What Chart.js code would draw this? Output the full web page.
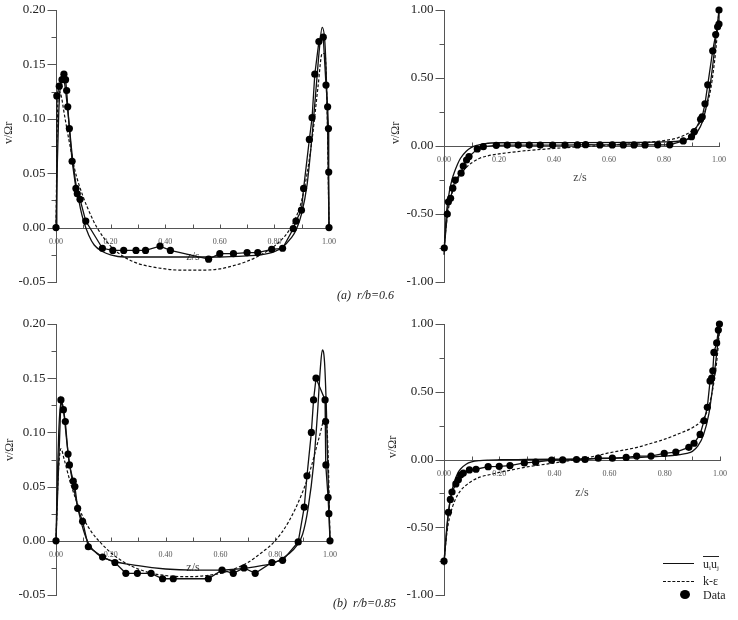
<!DOCTYPE html>
<html>
<head>
<meta charset="utf-8">
<script src="https://cdn.jsdelivr.net/npm/chart.js@4.4.1/dist/chart.umd.min.js"></script>
<style>
  html, body { margin: 0; padding: 0; background: #fff; }
  #wrap { position: relative; width: 738px; height: 620px; overflow: hidden; font-family: "Liberation Serif", "DejaVu Serif", serif; }
  canvas { position: absolute; }
  .cap { position: absolute; font-style: italic; font-size: 12px; color: #222; white-space: pre; }
  .lg { position: absolute; font-size: 12px; color: #222; line-height: 14px; }
</style>
</head>
<body>
<div id="wrap">
  <canvas id="cTL" width="369" height="300" style="left:0;top:0"></canvas>
  <canvas id="cTR" width="369" height="300" style="left:369px;top:0"></canvas>
  <canvas id="cBL" width="369" height="320" style="left:0;top:300px"></canvas>
  <canvas id="cBR" width="369" height="320" style="left:369px;top:300px"></canvas>
  <div class="cap" style="left:337px;top:288px">(a)  r/b=0.6</div>
  <div class="cap" style="left:333px;top:596px">(b)  r/b=0.85</div>
  <div style="position:absolute;left:663px;top:563px;width:31px;border-top:1.3px solid #111"></div>
  <div class="lg" style="left:703px;top:556px"><span style="display:inline-block;border-top:1px solid #222;line-height:12px;padding-top:1px">u<sub style="font-size:7px;vertical-align:-2px">i</sub>u<sub style="font-size:7px;vertical-align:-2px">j</sub></span></div>
  <div style="position:absolute;left:663px;top:581px;width:31px;border-top:1.2px dashed #111"></div>
  <div class="lg" style="left:703px;top:574px">k-ε</div>
  <div style="position:absolute;left:680px;top:590px;width:10px;height:9px;border-radius:50%;background:#000"></div>
  <div class="lg" style="left:703px;top:588px">Data</div>
</div>
<script>
// ---------- tick labels ----------
const xTickValues = [0, 0.2, 0.4, 0.6, 0.8, 1.0];
const xTickLabels = ["0.00", "0.20", "0.40", "0.60", "0.80", "1.00"];
const yTicksLeft = [-0.05, 0, 0.05, 0.10, 0.15, 0.20];
const yLabelsLeft = ["-0.05", "0.00", "0.05", "0.10", "0.15", "0.20"];
const yTicksRight = [-1.0, -0.5, 0, 0.5, 1.0];
const yLabelsRight = ["-1.00", "-0.50", "0.00", "0.50", "1.00"];
const seriesNames = ["uiuj", "k-\u03b5", "Data"];

// ---------- (a) r/b=0.6, left panel ----------
const aL_dataZ = [0, 0.003, 0.012, 0.022, 0.029, 0.035, 0.039, 0.043, 0.049, 0.059, 0.073, 0.078, 0.088, 0.109, 0.170, 0.208, 0.248, 0.293, 0.328, 0.381, 0.419, 0.559, 0.600, 0.650, 0.700, 0.739, 0.790, 0.830, 0.869, 0.879, 0.899, 0.907, 0.928, 0.938, 0.948, 0.963, 0.979, 0.989, 0.995, 0.998, 0.999, 1.0];
const aL_dataV = [0, 0.121, 0.130, 0.136, 0.141, 0.136, 0.126, 0.111, 0.091, 0.061, 0.036, 0.031, 0.026, 0.006, -0.019, -0.021, -0.021, -0.021, -0.021, -0.017, -0.021, -0.029, -0.024, -0.024, -0.023, -0.023, -0.020, -0.019, -0.001, 0.006, 0.016, 0.036, 0.081, 0.101, 0.141, 0.171, 0.175, 0.131, 0.111, 0.091, 0.051, 0];
const aL_rsmZ = [0, 0.005, 0.01, 0.015, 0.02, 0.025, 0.03, 0.04, 0.05, 0.06, 0.07, 0.08, 0.09, 0.1, 0.12, 0.14, 0.17, 0.2, 0.25, 0.3, 0.4, 0.5, 0.6, 0.7, 0.75, 0.8, 0.83, 0.86, 0.88, 0.9, 0.92, 0.94, 0.955, 0.965, 0.975, 0.985, 0.99, 0.995, 1.0];
const aL_rsmV = [0, 0.06, 0.105, 0.128, 0.136, 0.138, 0.135, 0.115, 0.09, 0.065, 0.045, 0.03, 0.017, 0.007, -0.007, -0.016, -0.022, -0.025, -0.027, -0.027, -0.027, -0.027, -0.027, -0.026, -0.025, -0.022, -0.018, -0.01, -0.002, 0.013, 0.04, 0.09, 0.135, 0.165, 0.184, 0.17, 0.14, 0.09, 0];
const aL_keZ = [0, 0.005, 0.012, 0.02, 0.03, 0.05, 0.07, 0.1, 0.13, 0.15, 0.2, 0.25, 0.3, 0.35, 0.4, 0.45, 0.5, 0.55, 0.6, 0.65, 0.7, 0.75, 0.8, 0.85, 0.88, 0.9, 0.92, 0.94, 0.96, 0.975, 0.985, 0.993, 1.0];
const aL_keV = [0, 0.1, 0.125, 0.12, 0.105, 0.077, 0.052, 0.028, 0.01, 0, -0.017, -0.027, -0.033, -0.036, -0.038, -0.039, -0.039, -0.039, -0.038, -0.035, -0.031, -0.025, -0.017, -0.004, 0.01, 0.025, 0.05, 0.085, 0.13, 0.16, 0.16, 0.11, 0];

// ---------- (a) r/b=0.6, right panel ----------
const aR_dataZ = [0.001, 0.012, 0.016, 0.024, 0.032, 0.041, 0.062, 0.070, 0.082, 0.091, 0.121, 0.143, 0.19, 0.23, 0.27, 0.31, 0.35, 0.395, 0.44, 0.485, 0.515, 0.567, 0.612, 0.652, 0.691, 0.731, 0.777, 0.821, 0.870, 0.90, 0.91, 0.933, 0.939, 0.949, 0.959, 0.977, 0.988, 0.995, 1.0, 1.0];
const aR_dataV = [-0.75, -0.50, -0.41, -0.385, -0.31, -0.25, -0.20, -0.147, -0.103, -0.078, -0.022, -0.005, 0.005, 0.007, 0.007, 0.007, 0.007, 0.007, 0.007, 0.008, 0.01, 0.008, 0.008, 0.008, 0.008, 0.008, 0.009, 0.009, 0.037, 0.068, 0.105, 0.196, 0.215, 0.31, 0.45, 0.70, 0.82, 0.877, 0.897, 1.0];
const aR_rsmZ = [0, 0.005, 0.01, 0.02, 0.03, 0.04, 0.05, 0.06, 0.08, 0.1, 0.12, 0.15, 0.2, 0.3, 0.5, 0.7, 0.8, 0.85, 0.88, 0.9, 0.92, 0.94, 0.96, 0.97, 0.98, 0.99, 1.0];
const aR_rsmV = [-0.8, -0.6, -0.47, -0.33, -0.24, -0.18, -0.13, -0.09, -0.04, -0.01, 0.005, 0.018, 0.024, 0.025, 0.025, 0.027, 0.03, 0.035, 0.045, 0.06, 0.1, 0.18, 0.35, 0.48, 0.64, 0.82, 1.0];
const aR_keZ = [0, 0.01, 0.02, 0.04, 0.06, 0.08, 0.1, 0.13, 0.16, 0.2, 0.25, 0.3, 0.4, 0.5, 0.6, 0.7, 0.8, 0.85, 0.9, 0.93, 0.95, 0.97, 0.98, 0.99, 1.0];
const aR_keV = [-0.75, -0.55, -0.42, -0.29, -0.21, -0.16, -0.125, -0.09, -0.072, -0.058, -0.045, -0.034, -0.018, -0.005, 0.007, 0.02, 0.04, 0.06, 0.11, 0.17, 0.26, 0.42, 0.56, 0.74, 1.0];

// ---------- (b) r/b=0.85, left panel ----------
const bL_dataZ = [0, 0.018, 0.027, 0.034, 0.044, 0.049, 0.063, 0.069, 0.079, 0.097, 0.118, 0.170, 0.215, 0.255, 0.297, 0.347, 0.389, 0.428, 0.556, 0.606, 0.647, 0.686, 0.727, 0.788, 0.827, 0.884, 0.906, 0.916, 0.932, 0.940, 0.949, 0.982, 0.984, 0.985, 0.993, 0.996, 1.0];
const bL_dataV = [0, 0.130, 0.121, 0.110, 0.080, 0.070, 0.055, 0.050, 0.030, 0.018, -0.0055, -0.015, -0.020, -0.030, -0.030, -0.030, -0.035, -0.035, -0.035, -0.027, -0.030, -0.025, -0.030, -0.020, -0.018, -0.001, 0.031, 0.060, 0.100, 0.130, 0.150, 0.130, 0.110, 0.070, 0.040, 0.025, 0];
const bL_rsmZ = [0, 0.005, 0.01, 0.015, 0.02, 0.025, 0.03, 0.04, 0.05, 0.06, 0.08, 0.1, 0.12, 0.15, 0.2, 0.3, 0.4, 0.5, 0.6, 0.7, 0.75, 0.8, 0.85, 0.88, 0.9, 0.92, 0.94, 0.955, 0.965, 0.972, 0.98, 0.987, 0.993, 1.0];
const bL_rsmV = [0, 0.06, 0.1, 0.122, 0.128, 0.125, 0.115, 0.09, 0.07, 0.055, 0.03, 0.01, -0.003, -0.012, -0.018, -0.023, -0.026, -0.027, -0.027, -0.025, -0.023, -0.02, -0.012, -0.004, 0.006, 0.03, 0.07, 0.12, 0.16, 0.176, 0.165, 0.12, 0.06, 0];
const bL_keZ = [0, 0.008, 0.018, 0.03, 0.05, 0.07, 0.1, 0.13, 0.16, 0.2, 0.25, 0.3, 0.35, 0.4, 0.45, 0.5, 0.55, 0.6, 0.65, 0.7, 0.75, 0.8, 0.85, 0.9, 0.93, 0.96, 0.985, 0.993, 1.0];
const bL_keV = [0, 0.06, 0.085, 0.075, 0.056, 0.04, 0.021, 0.008, -0.001, -0.011, -0.02, -0.026, -0.03, -0.032, -0.033, -0.033, -0.032, -0.03, -0.026, -0.02, -0.011, 0.0, 0.018, 0.045, 0.067, 0.095, 0.115, 0.08, 0];

// ---------- (b) r/b=0.85, right panel ----------
const bR_dataZ = [0, 0.016, 0.023, 0.029, 0.043, 0.052, 0.060, 0.070, 0.092, 0.116, 0.16, 0.20, 0.239, 0.291, 0.332, 0.39, 0.43, 0.48, 0.511, 0.559, 0.61, 0.66, 0.698, 0.75, 0.798, 0.84, 0.887, 0.906, 0.928, 0.942, 0.954, 0.964, 0.970, 0.974, 0.978, 0.988, 0.994, 0.998];
const bR_dataV = [-0.75, -0.39, -0.295, -0.24, -0.18, -0.15, -0.115, -0.10, -0.077, -0.072, -0.053, -0.05, -0.045, -0.025, -0.02, -0.005, -0.003, 0.0, 0.0, 0.01, 0.01, 0.015, 0.025, 0.025, 0.045, 0.055, 0.09, 0.12, 0.185, 0.286, 0.385, 0.58, 0.60, 0.655, 0.79, 0.86, 0.955, 1.0];
const bR_rsmZ = [0, 0.01, 0.02, 0.03, 0.04, 0.05, 0.06, 0.08, 0.1, 0.13, 0.16, 0.2, 0.3, 0.4, 0.5, 0.6, 0.7, 0.8, 0.85, 0.88, 0.9, 0.92, 0.94, 0.96, 0.97, 0.98, 0.99, 1.0];
const bR_rsmV = [-0.78, -0.5, -0.33, -0.22, -0.15, -0.1, -0.07, -0.035, -0.018, -0.008, -0.004, -0.002, 0.0, 0.002, 0.004, 0.008, 0.014, 0.025, 0.035, 0.045, 0.06, 0.1, 0.18, 0.34, 0.48, 0.64, 0.82, 1.0];
const bR_keZ = [0, 0.01, 0.02, 0.04, 0.06, 0.08, 0.1, 0.13, 0.17, 0.2, 0.25, 0.3, 0.35, 0.4, 0.45, 0.5, 0.6, 0.7, 0.76, 0.8, 0.85, 0.9, 0.93, 0.95, 0.97, 0.98, 0.99, 1.0];
const bR_keV = [-0.75, -0.55, -0.43, -0.3, -0.23, -0.19, -0.16, -0.13, -0.11, -0.095, -0.075, -0.055, -0.04, -0.025, -0.01, 0.005, 0.05, 0.09, 0.125, 0.15, 0.19, 0.235, 0.28, 0.34, 0.48, 0.6, 0.76, 1.0];

// ---------- helpers ----------
function pts(zs, vs) { return zs.map((z, i) => ({ x: z, y: vs[i] })); }

const axesPlugin = {
  id: 'panelAxes',
  beforeDatasetsDraw(chart, args, o) {
    const ctx = chart.ctx, xs = chart.scales.x, ys = chart.scales.y;
    const ax = Math.round(xs.getPixelForValue(0)) + 0.5;
    const y0 = Math.round(ys.getPixelForValue(0)) + 0.5;
    ctx.save();
    ctx.strokeStyle = '#555';
    ctx.lineWidth = 1;
    // y axis line
    ctx.beginPath();
    ctx.moveTo(ax, Math.round(ys.getPixelForValue(ys.max)));
    ctx.lineTo(ax, Math.round(ys.getPixelForValue(ys.min)) + 1);
    ctx.stroke();
    // y major + minor ticks
    const tv = o.yTicks;
    ctx.beginPath();
    tv.forEach((v, i) => {
      const py = Math.round(ys.getPixelForValue(v)) + 0.5;
      ctx.moveTo(ax - 9, py); ctx.lineTo(ax, py);
      if (i < tv.length - 1) {
        const pm = Math.round(ys.getPixelForValue((v + tv[i + 1]) / 2)) + 0.5;
        ctx.moveTo(ax - 5, pm); ctx.lineTo(ax, pm);
      }
    });
    ctx.stroke();
    ctx.fillStyle = '#222';
    ctx.font = '13px "Liberation Serif"';
    ctx.textAlign = 'right';
    ctx.textBaseline = 'middle';
    tv.forEach((v, i) => ctx.fillText(o.yLabels[i], ax - 11, ys.getPixelForValue(v)));
    // x axis line at v = 0
    ctx.beginPath();
    ctx.moveTo(ax, y0);
    ctx.lineTo(Math.round(xs.getPixelForValue(1)) + 1, y0);
    // x ticks every 0.1 pointing up
    for (let k = 1; k <= 10; k++) {
      const px = Math.round(xs.getPixelForValue(k / 10)) + 0.5;
      ctx.moveTo(px, y0); ctx.lineTo(px, y0 - 4);
    }
    ctx.stroke();
    ctx.fillStyle = '#555';
    ctx.font = '8px "Liberation Serif"';
    ctx.textAlign = 'center';
    ctx.textBaseline = 'middle';
    xTickValues.forEach((v, i) => ctx.fillText(xTickLabels[i], xs.getPixelForValue(v), y0 + 13));
    // axis titles
    ctx.font = '12px "Liberation Serif"';
    ctx.fillStyle = '#444';
    ctx.fillText('z/s', o.zx, o.zy);
    ctx.save();
    ctx.translate(o.vx, o.vy);
    ctx.rotate(-Math.PI / 2);
    ctx.fillStyle = '#333';
    ctx.fillText('v/\u03a9r', 0, 0);
    ctx.restore();
    ctx.restore();
  }
};

function makePanel(id, pad, yMin, yMax, yTicks, yLabels, data, lbl) {
  new Chart(document.getElementById(id), {
    type: 'scatter',
    data: {
      datasets: [
        { label: seriesNames[0], data: pts(data[2], data[3]), showLine: true, borderColor: '#111', borderWidth: 1.3,
          pointRadius: 0, cubicInterpolationMode: 'monotone', clip: false, order: 2 },
        { label: seriesNames[1], data: pts(data[4], data[5]), showLine: true, borderColor: '#111', borderWidth: 1.2,
          borderDash: [3, 2], pointRadius: 0, cubicInterpolationMode: 'monotone', clip: false, order: 3 },
        { label: seriesNames[2], data: pts(data[0], data[1]), showLine: true, borderColor: '#111', borderWidth: 1.3,
          pointRadius: 3.6, pointBackgroundColor: '#000', pointBorderColor: '#000', pointBorderWidth: 0,
          tension: 0, clip: false, order: 1 }
      ]
    },
    options: {
      responsive: false, animation: false, devicePixelRatio: 1, events: [],
      layout: { padding: pad, autoPadding: false },
      scales: {
        x: { type: 'linear', min: 0, max: 1, display: false },
        y: { type: 'linear', min: yMin, max: yMax, display: false }
      },
      plugins: {
        legend: { display: false }, tooltip: { enabled: false },
        panelAxes: { yTicks: yTicks, yLabels: yLabels, zx: lbl[0], zy: lbl[1], vx: lbl[2], vy: lbl[3] }
      }
    },
    plugins: [axesPlugin]
  });
}

makePanel('cTL', { left: 56, right: 40, top: 10, bottom: 18 }, -0.05, 0.20, yTicksLeft, yLabelsLeft,
  [aL_dataZ, aL_dataV, aL_rsmZ, aL_rsmV, aL_keZ, aL_keV], [193, 257, 9, 133]);
makePanel('cTR', { left: 75, right: 19, top: 10, bottom: 18 }, -1, 1, yTicksRight, yLabelsRight,
  [aR_dataZ, aR_dataV, aR_rsmZ, aR_rsmV, aR_keZ, aR_keV], [211, 178, 27, 133]);
makePanel('cBL', { left: 56, right: 39, top: 24, bottom: 25 }, -0.05, 0.20, yTicksLeft, yLabelsLeft,
  [bL_dataZ, bL_dataV, bL_rsmZ, bL_rsmV, bL_keZ, bL_keV], [193, 268, 10, 150]);
makePanel('cBR', { left: 75, right: 18, top: 24, bottom: 25 }, -1, 1, yTicksRight, yLabelsRight,
  [bR_dataZ, bR_dataV, bR_rsmZ, bR_rsmV, bR_keZ, bR_keV], [213, 193, 24, 147]);
</script>
</body>
</html>
